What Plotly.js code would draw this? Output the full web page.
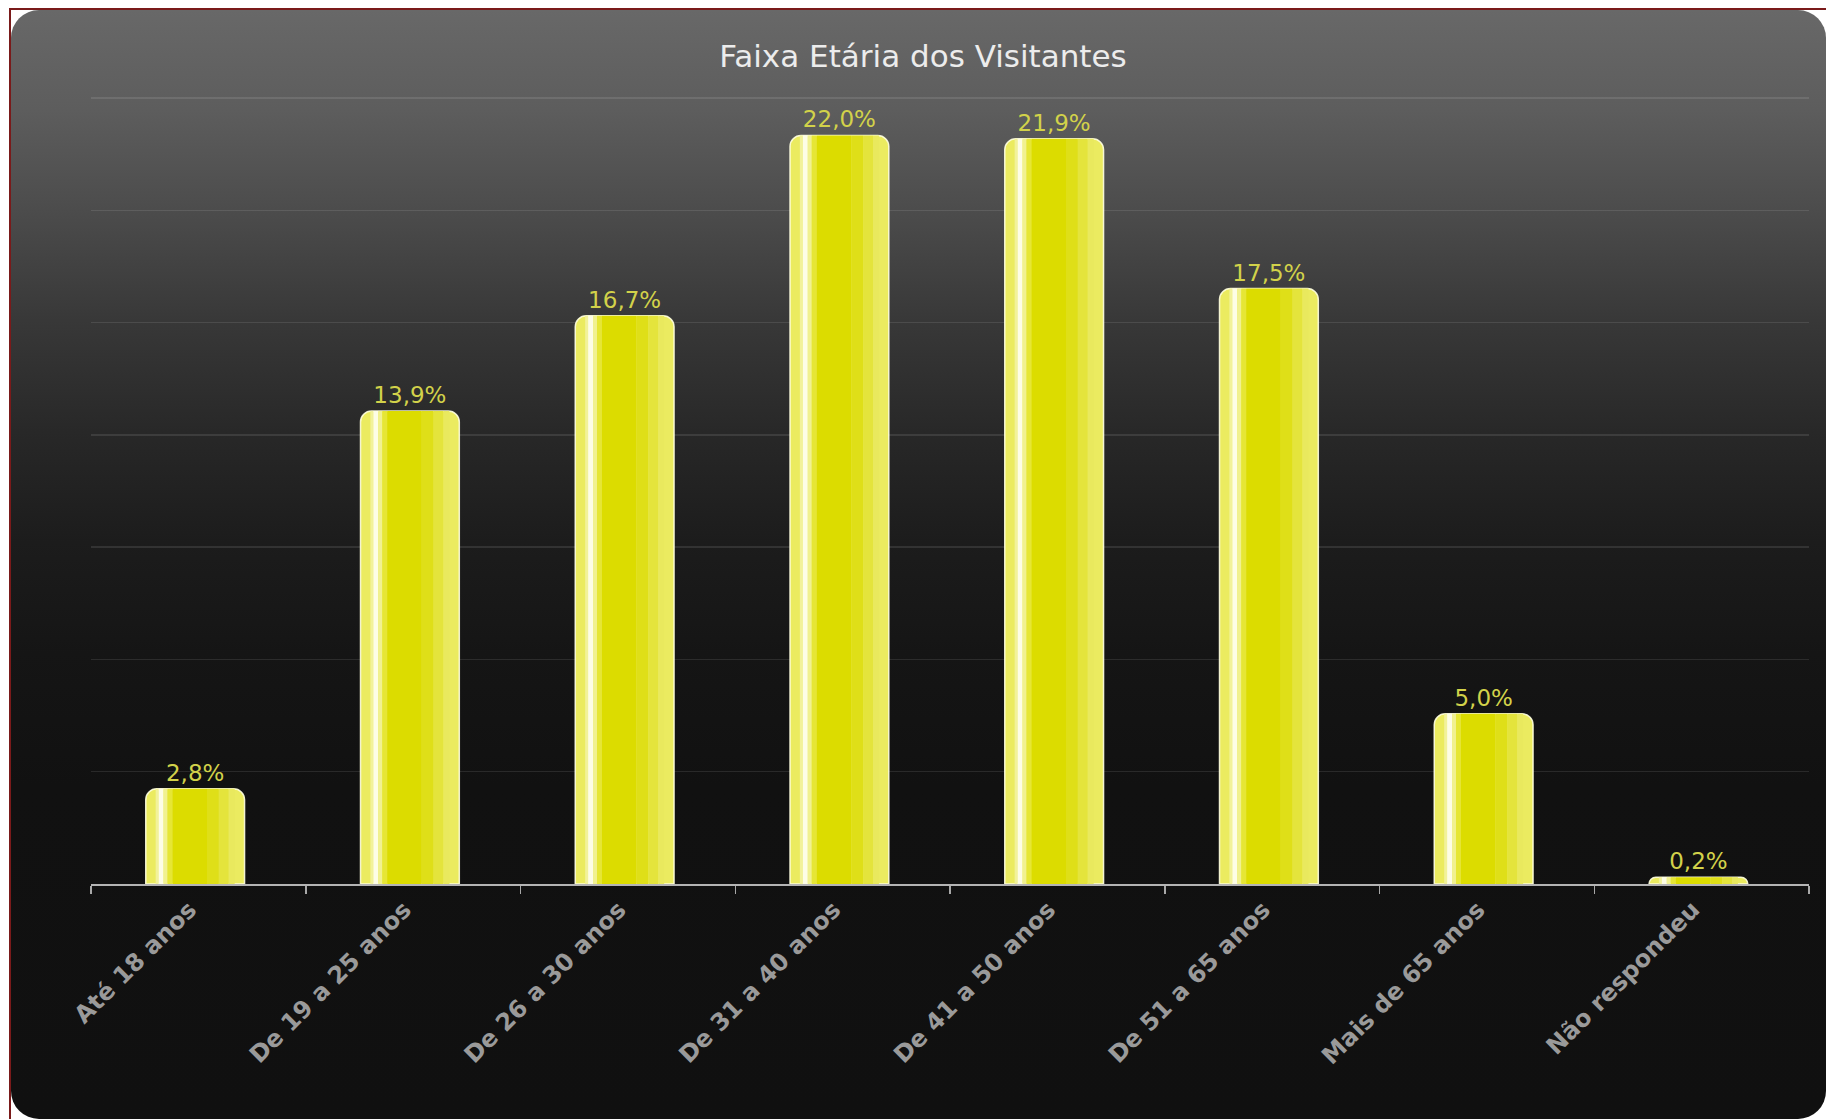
<!DOCTYPE html>
<html>
<head>
<meta charset="utf-8">
<script src="https://cdn.plot.ly/plotly-3.0.1.min.js"></script>
<style>
  html, body { margin: 0; padding: 0; background: #ffffff; width: 1826px; height: 1119px; overflow: hidden; }
  #frame { position: absolute; left: 9px; top: 8px; width: 1817px; height: 1111px;
           border-left: 2px solid #7a1a1a; border-top: 2px solid #7a1a1a; box-sizing: border-box; }
  #card { position: absolute; left: 11px; top: 10px; width: 1815px; height: 1109px; border-radius: 28px;
          background: linear-gradient(to bottom, #686868 0%, #5d5d5d 9%, #4c4c4c 18%, #383838 28%, #282828 38%, #1c1c1c 48%, #151515 58%, #111111 70%, #101010 100%); }
  #chart { position: absolute; left: 0; top: 0; width: 1826px; height: 1119px; }
</style>
</head>
<body>
<div id="frame"></div>
<div id="card"></div>
<div id="chart"></div>
<script>
const categories = ["Até 18 anos", "De 19 a 25 anos", "De 26 a 30 anos", "De 31 a 40 anos",
                    "De 41 a 50 anos", "De 51 a 65 anos", "Mais de 65 anos", "Não respondeu"];
const values = [2.8, 13.9, 16.7, 22.0, 21.9, 17.5, 5.0, 0.2];
const chartTitle = "Faixa Etária dos Visitantes";

const BAR_W = 0.46;
const BAR_OFF = -0.245;

// vertical shading stripes drawn inside each bar: [start fraction, end fraction, colour]
const stripes = [
  [0.10, 0.13, "#f2f29a"],
  [0.13, 0.18, "#fdfde6"],
  [0.18, 0.22, "#f1f190"],
  [0.22, 0.27, "#e6e635"],
  [0.27, 0.62, "#dcdc00"],
  [0.62, 0.74, "#dfdf18"],
  [0.74, 0.84, "#e4e43c"],
  [0.84, 0.90, "#e9e95e"]
];

const traces = [{
  type: "bar",
  x: categories,
  y: values,
  width: BAR_W,
  offset: BAR_OFF,
  marker: { color: "#ebeb60", line: { color: "rgba(255,255,225,0.9)", width: 1.5 }, cornerradius: 11 },
  texttemplate: "%{y:.1f}%",
  textposition: "outside",
  cliponaxis: false,
  textfont: { family: "DejaVu Sans", size: 23, color: "#d2d24a" },
  hoverinfo: "x+y"
}];

stripes.forEach(s => {
  traces.push({
    type: "bar",
    x: categories,
    y: values,
    width: BAR_W * (s[1] - s[0]),
    offset: BAR_OFF + BAR_W * s[0],
    marker: { color: s[2], line: { width: 0 }, cornerradius: 0 },
    hoverinfo: "skip",
    textposition: "none"
  });
});

const layout = {
  width: 1826,
  height: 1119,
  paper_bgcolor: "rgba(0,0,0,0)",
  plot_bgcolor: "rgba(0,0,0,0)",
  showlegend: false,
  barmode: "overlay",
  separators: ",.",
  margin: { l: 91, r: 17, t: 97, b: 235 },
  title: {
    text: chartTitle,
    font: { family: "DejaVu Sans", size: 31, color: "#ececec" },
    xref: "container", x: 923 / 1826, xanchor: "center",
    yref: "container", y: 1 - 56 / 1119, yanchor: "middle"
  },
  xaxis: {
    type: "category",
    showgrid: false,
    showline: true,
    linecolor: "#b4b4b4",
    linewidth: 2,
    ticks: "outside",
    tickson: "boundaries",
    ticklen: 8,
    tickwidth: 1.5,
    tickcolor: "#a8a8a8",
    tickangle: -45,
    ticklabelshift: -9,
    tickfont: { family: "DejaVu Sans", size: 24, color: "#9a9a9a", weight: "bold" },
    range: [-0.5, 7.5]
  },
  yaxis: {
    range: [0, 23.13],
    dtick: 3.3,
    tick0: 0,
    showticklabels: false,
    showgrid: true,
    gridcolor: "rgba(255,255,255,0.10)",
    gridwidth: 1.5,
    zeroline: false,
    showline: false,
    ticks: ""
  }
};

Plotly.newPlot("chart", traces, layout, { displayModeBar: false, staticPlot: true });
</script>
</body>
</html>
